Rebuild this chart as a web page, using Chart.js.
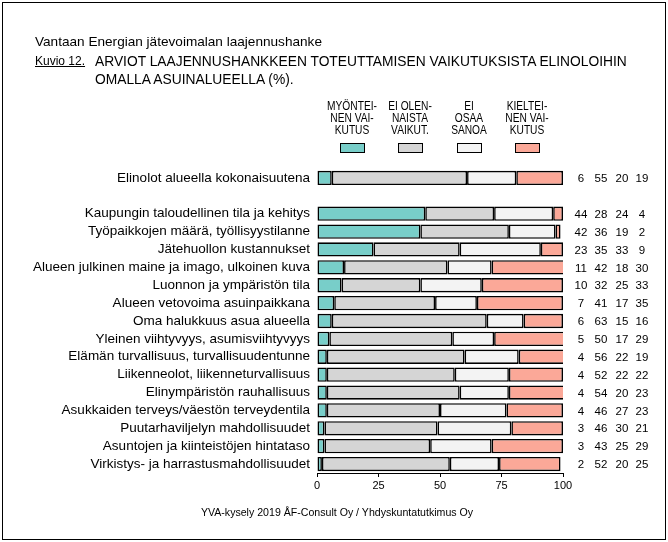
<!DOCTYPE html>
<html>
<head>
<meta charset="utf-8">
<script src="https://cdn.jsdelivr.net/npm/chart.js@4/dist/chart.umd.min.js"></script>
<style>
  html, body { margin:0; padding:0; background:#fff; }
  body { width:668px; height:542px; position:relative; overflow:hidden; font-family:"Liberation Sans", Arial, sans-serif; color:#000; }
  #frame { position:absolute; left:2px; top:2px; width:662px; height:536px; border:1px solid #000; }
  #wrap { position:absolute; left:0; top:0; width:668px; height:542px; }
  .t { position:absolute; white-space:nowrap; }
  #title { left:35px; top:34px; font-size:13.6px; }
  #kuvio { left:35px; top:54px; font-size:12px; text-decoration:underline; }
  #heading { left:95px; top:53px; font-size:13.8px; line-height:18px; }
  .lh { position:absolute; top:101px; width:60px; text-align:center; font-size:12px; line-height:11.8px; transform:scaleX(0.85); }
  .lb { position:absolute; top:143px; width:23px; height:8px; border:1px solid #000; }
  #footer { left:0; width:668px; top:506px; text-align:center; font-size:10.6px; }
  #footer span { position:relative; left:3px; }
</style>
</head>
<body>
<div id="wrap"><canvas id="chart" width="668" height="542"></canvas></div>
<div id="frame"></div>
<div class="t" id="title">Vantaan Energian jätevoimalan laajennushanke</div>
<div class="t" id="kuvio">Kuvio 12.</div>
<div class="t" id="heading">ARVIOT LAAJENNUSHANKKEEN TOTEUTTAMISEN VAIKUTUKSISTA ELINOLOIHIN<br>OMALLA ASUINALUEELLA (%).</div>
<div id="legend"></div>
<div class="t" id="footer"><span>YVA-kysely 2019 ÅF-Consult Oy / Yhdyskuntatutkimus Oy</span></div>
<script>
// categories ('' = empty gap row)
const categories = [
  'Elinolot alueella kokonaisuutena',
  '',
  'Kaupungin taloudellinen tila ja kehitys',
  'Työpaikkojen määrä, työllisyystilanne',
  'Jätehuollon kustannukset',
  'Alueen julkinen maine ja imago, ulkoinen kuva',
  'Luonnon ja ympäristön tila',
  'Alueen vetovoima asuinpaikkana',
  'Oma halukkuus asua alueella',
  'Yleinen viihtyvyys, asumisviihtyvyys',
  'Elämän turvallisuus, turvallisuudentunne',
  'Liikenneolot, liikenneturvallisuus',
  'Elinympäristön rauhallisuus',
  'Asukkaiden terveys/väestön terveydentila',
  'Puutarhaviljelyn mahdollisuudet',
  'Asuntojen ja kiinteistöjen hintataso',
  'Virkistys- ja harrastusmahdollisuudet'
];

// series values (%)
const positive = [6, null, 44, 42, 23, 11, 10, 7, 6, 5, 4, 4, 4, 4, 3, 3, 2];
const noEffect = [55, null, 28, 36, 35, 42, 32, 41, 63, 50, 56, 52, 54, 46, 46, 43, 52];
const cantSay  = [20, null, 24, 19, 33, 18, 25, 17, 15, 17, 22, 22, 20, 27, 30, 25, 20];
const negative = [19, null, 4, 2, 9, 30, 33, 35, 16, 29, 19, 22, 23, 23, 21, 29, 25];

const seriesNames = [
  ['MYÖNTEI-', 'NEN VAI-', 'KUTUS'],
  ['EI OLEN-', 'NAISTA', 'VAIKUT.'],
  ['EI', 'OSAA', 'SANOA'],
  ['KIELTEI-', 'NEN VAI-', 'KUTUS']
];
const colors = ['#78CEC9', '#D5D5D5', '#F3F3F3', '#FBA898'];
const xTicks = [0, 25, 50, 75, 100];

// legend (html text)
const legendX = [340, 398, 457, 515];
const legend = document.getElementById('legend');
seriesNames.forEach((lines, i) => {
  const h = document.createElement('div');
  h.className = 'lh';
  h.style.left = (legendX[i] + 12 - 30) + 'px';
  h.innerHTML = lines.join('<br>');
  legend.appendChild(h);
  const b = document.createElement('div');
  b.className = 'lb';
  b.style.left = legendX[i] + 'px';
  b.style.background = colors[i];
  legend.appendChild(b);
});

// value columns on the right of each bar
const valueCols = [581, 601, 622, 642];
const valuesPlugin = {
  id: 'values',
  afterDatasetsDraw(chart){
    const ctx = chart.ctx;
    const y = chart.scales.y;
    ctx.save();
    ctx.font = '11.5px "Liberation Sans", Arial, sans-serif';
    ctx.fillStyle = '#000';
    ctx.textAlign = 'center';
    ctx.textBaseline = 'middle';
    const series = [positive, noEffect, cantSay, negative];
    categories.forEach((c, i) => {
      if (!c) return;
      const py = y.getPixelForValue(i);
      series.forEach((s, k) => ctx.fillText(String(s[i]), valueCols[k], py + 1));
    });
    ctx.restore();
  }
};

const data = [positive, noEffect, cantSay, negative].map((d, i) => ({
  label: seriesNames[i].join(' '),
  data: d,
  backgroundColor: colors[i],
  borderColor: '#000',
  borderWidth: 1.6,
  borderSkipped: false,
  barPercentage: 0.8,
  categoryPercentage: 1
}));

new Chart(document.getElementById('chart'), {
  type: 'bar',
  data: { labels: categories, datasets: data },
  options: {
    indexAxis: 'y',
    responsive: false,
    animation: false,
    devicePixelRatio: 1,
    layout: { padding: { left: 0, right: 105, top: 169, bottom: 49 } },
    plugins: { legend: { display: false }, tooltip: { enabled: false } },
    scales: {
      x: {
        stacked: true,
        min: 0, max: 100,
        afterBuildTicks: (s) => { s.ticks = xTicks.map(v => ({ value: v })); },
        afterFit: (s) => { s.height = 20; },
        grid: { drawOnChartArea: false, drawTicks: true, tickLength: 4, color: '#000', lineWidth: 1 },
        border: { display: true, color: '#000', width: 1 },
        ticks: { color: '#000', padding: 2, font: { family: '"Liberation Sans", Arial, sans-serif', size: 11 } }
      },
      y: {
        stacked: true,
        afterFit: (s) => { s.width = 317; },
        grid: { display: false, drawTicks: false },
        border: { display: false },
        ticks: { color: '#000', padding: 7, autoSkip: false, font: { family: '"Liberation Sans", Arial, sans-serif', size: 13.5 } }
      }
    }
  },
  plugins: [valuesPlugin]
});
</script>
</body>
</html>
